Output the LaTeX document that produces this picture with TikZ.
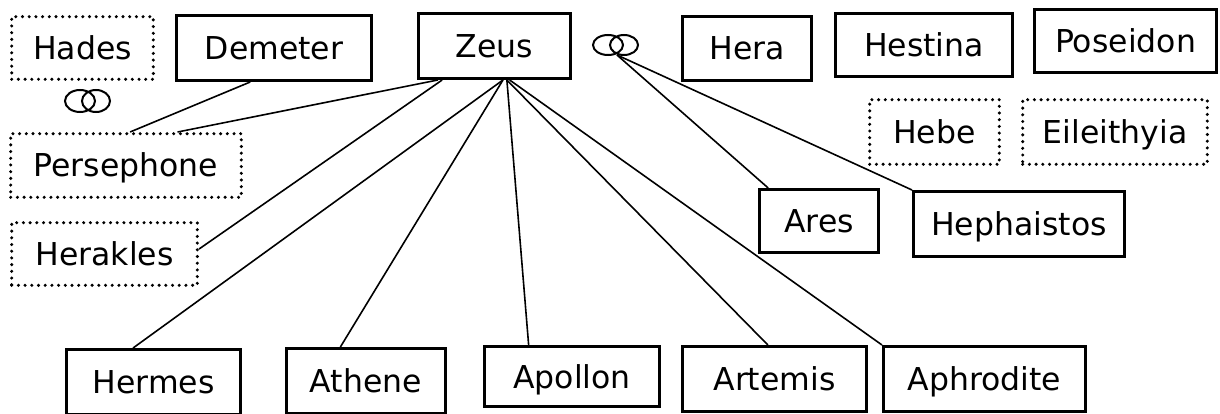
\documentclass[tikz,border=0pt]{standalone}
\usepackage{fontspec}
\setmainfont{DejaVu Sans}
\usetikzlibrary{positioning}

\tikzset{
  god/.style={draw, line width=3.3pt, inner sep=0pt, text height=23pt, text depth=0pt,
    font=\fontsize{31.5}{38}\selectfont},
  mortal/.style={god, line width=3.4pt, dash pattern=on 0pt off 6.7pt, line cap=round},
  boxsize/.style 2 args={minimum width=#1pt, minimum height=#2pt},
  link/.style={line width=1.6pt},
  ring/.style={line width=2pt}
}

\begin{document}
\begin{tikzpicture}[x=1pt, y=-1pt]
        \useasboundingbox (0,0) rectangle (1220,414);

        % Top row
        \node[mortal, boxsize={141.6}{62.6}] (hades) at (82.5,48) {Hades};
        \node[god, boxsize={194.7}{64.7}] (demeter) at (274,48) {Demeter};
        \node[god, boxsize={151.7}{64.7}] (zeus) at (494.5,46) {Zeus};
        \node[god, boxsize={128.7}{63.7}] (hera) at (747,48.5) {Hera};
        \node[god, boxsize={176.7}{62.7}] (hestina) at (924,45) {Hestina};
        \node[god, boxsize={181.7}{62.7}] (poseidon) at (1125.5,41) {Poseidon};

        % Wedding rings
        \draw[ring] (80,101) ellipse (15 and 11) (96,101) ellipse (14 and 11);
        \draw[ring] (608,45) ellipse (15 and 10) (624,45) ellipse (14 and 10);
        \coordinate (vow) at (617,55);

        % Left side
        \node[mortal, boxsize={230.6}{63.6}] (persephone) at (126,165.5) {Persephone};
        \node[mortal, boxsize={185.6}{62.6}] (herakles) at (104.5,254) {Herakles};

        % Right side
        \node[mortal, boxsize={129.6}{64.6}] (hebe) at (934.5,132) {Hebe};
        \node[mortal, boxsize={184.6}{64.6}] (eileithyia) at (1115,132) {Eileithyia};
        \node[god, boxsize={118.7}{62.7}] (ares) at (819,221) {Ares};
        \node[god, boxsize={210.7}{64.7}] (hephaistos) at (1019,224) {Hephaistos};

        % Bottom row
        \node[god, boxsize={173.7}{64.7}] (hermes) at (153.5,382) {Hermes};
        \node[god, boxsize={158.7}{64.7}] (athene) at (366,381) {Athene};
        \node[god, boxsize={174.7}{59.7}] (apollon) at (572,376.5) {Apollon};
        \node[god, boxsize={183.7}{64.7}] (artemis) at (774.5,379) {Artemis};
        \node[god, boxsize={201.7}{64.7}] (aphrodite) at (984.5,379) {Aphrodite};

        % Lines
        \draw[link] (demeter.235) -- (persephone.83);
        \draw[link] (zeus.211) -- (persephone.33);
        \draw[link] (zeus.213) -- (herakles.3);
        \foreach \child/\from/\to in {hermes/284/121, athene/284/127, apollon/290/144, artemis/290/101}
            \draw[link] (zeus.\from) -- (\child.\to);
        \draw[link] (zeus.294) -- (aphrodite.north west);
        \draw[link] (vow) -- (ares.147);
        \draw[link] (vow) -- (hephaistos.north west);
    \end{tikzpicture}
\end{document}
